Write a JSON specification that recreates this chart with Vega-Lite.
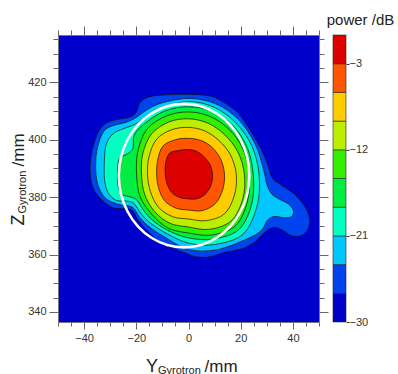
{
  "$schema": "https://vega.github.io/schema/vega-lite/v6.json",
  "background": "white",
  "padding": {"left": 9, "top": 12, "right": 0, "bottom": 0},
  "spacing": 14,
  "bounds": "flush",
  "config": {"font": "Liberation Sans", "view": {"stroke": null}},
  "datasets": {
    "cont": [
      {"lv":-27,"i":0,"Y":0,"Z":415.8},{"lv":-27,"i":1,"Y":8,"Z":415.3},{"lv":-27,"i":2,"Y":13,"Z":413.3},{"lv":-27,"i":3,"Y":19,"Z":409.3},{"lv":-27,"i":4,"Y":24.2,"Z":402.5},{"lv":-27,"i":5,"Y":28.5,"Z":395.5},{"lv":-27,"i":6,"Y":30.8,"Z":390},{"lv":-27,"i":7,"Y":32.2,"Z":386.5},{"lv":-27,"i":8,"Y":35.5,"Z":384.2},{"lv":-27,"i":9,"Y":40.7,"Z":380.9},{"lv":-27,"i":10,"Y":44.5,"Z":376.8},{"lv":-27,"i":11,"Y":46.4,"Z":372.5},{"lv":-27,"i":12,"Y":45.8,"Z":369},{"lv":-27,"i":13,"Y":43.3,"Z":366.6},{"lv":-27,"i":14,"Y":39.4,"Z":366.6},{"lv":-27,"i":15,"Y":35.5,"Z":368.8},{"lv":-27,"i":16,"Y":32.2,"Z":369.4},{"lv":-27,"i":17,"Y":29.1,"Z":367.6},{"lv":-27,"i":18,"Y":25.5,"Z":364.5},{"lv":-27,"i":19,"Y":20.5,"Z":362},{"lv":-27,"i":20,"Y":14,"Z":360.8},{"lv":-27,"i":21,"Y":8,"Z":359.2},{"lv":-27,"i":22,"Y":3,"Z":359.2},{"lv":-27,"i":23,"Y":-0.5,"Z":360.3},{"lv":-27,"i":24,"Y":-6.5,"Z":362.5},{"lv":-27,"i":25,"Y":-11.5,"Z":364.8},{"lv":-27,"i":26,"Y":-16,"Z":368.5},{"lv":-27,"i":27,"Y":-19.5,"Z":372.2},{"lv":-27,"i":28,"Y":-22,"Z":375.7},{"lv":-27,"i":29,"Y":-29,"Z":376.3},{"lv":-27,"i":30,"Y":-34.1,"Z":379.9},{"lv":-27,"i":31,"Y":-36.7,"Z":383.5},{"lv":-27,"i":32,"Y":-37.7,"Z":388.7},{"lv":-27,"i":33,"Y":-37.3,"Z":394.5},{"lv":-27,"i":34,"Y":-35.4,"Z":400.9},{"lv":-27,"i":35,"Y":-32.8,"Z":404.9},{"lv":-27,"i":36,"Y":-29,"Z":406.7},{"lv":-27,"i":37,"Y":-22.5,"Z":407.9},{"lv":-27,"i":38,"Y":-20,"Z":409.6},{"lv":-27,"i":39,"Y":-18.5,"Z":413},{"lv":-27,"i":40,"Y":-15,"Z":415},{"lv":-27,"i":41,"Y":-8,"Z":415.7},
      {"lv":-24,"i":0,"Y":0,"Z":414.4},{"lv":-24,"i":1,"Y":10.2,"Z":412.6},{"lv":-24,"i":2,"Y":19.1,"Z":407.1},{"lv":-24,"i":3,"Y":25.5,"Z":398.6},{"lv":-24,"i":4,"Y":28.8,"Z":389.5},{"lv":-24,"i":5,"Y":30,"Z":384.5},{"lv":-24,"i":6,"Y":32,"Z":381},{"lv":-24,"i":7,"Y":35,"Z":379.2},{"lv":-24,"i":8,"Y":38.3,"Z":377.6},{"lv":-24,"i":9,"Y":40.2,"Z":375.3},{"lv":-24,"i":10,"Y":39.4,"Z":373.2},{"lv":-24,"i":11,"Y":36.5,"Z":372.8},{"lv":-24,"i":12,"Y":33,"Z":373.3},{"lv":-24,"i":13,"Y":30.3,"Z":372},{"lv":-24,"i":14,"Y":28,"Z":368.5},{"lv":-24,"i":15,"Y":22.5,"Z":365.5},{"lv":-24,"i":16,"Y":10.9,"Z":361.7},{"lv":-24,"i":17,"Y":0,"Z":361.8},{"lv":-24,"i":18,"Y":-9.1,"Z":366.1},{"lv":-24,"i":19,"Y":-15.2,"Z":369.8},{"lv":-24,"i":20,"Y":-18.9,"Z":373.2},{"lv":-24,"i":21,"Y":-21.5,"Z":376.5},{"lv":-24,"i":22,"Y":-26.5,"Z":377.4},{"lv":-24,"i":23,"Y":-31.5,"Z":379.4},{"lv":-24,"i":24,"Y":-34.1,"Z":382.9},{"lv":-24,"i":25,"Y":-35.4,"Z":387.5},{"lv":-24,"i":26,"Y":-35.4,"Z":394.5},{"lv":-24,"i":27,"Y":-34.1,"Z":399.7},{"lv":-24,"i":28,"Y":-32.2,"Z":403.2},{"lv":-24,"i":29,"Y":-29,"Z":404.9},{"lv":-24,"i":30,"Y":-23.8,"Z":406.1},{"lv":-24,"i":31,"Y":-20,"Z":407.8},{"lv":-24,"i":32,"Y":-16,"Z":410.4},{"lv":-24,"i":33,"Y":-10.3,"Z":412.8},
      {"lv":-21,"i":0,"Y":0,"Z":413.3},{"lv":-21,"i":1,"Y":9.7,"Z":411.4},{"lv":-21,"i":2,"Y":18,"Z":406},{"lv":-21,"i":3,"Y":24.2,"Z":398},{"lv":-21,"i":4,"Y":27,"Z":388},{"lv":-21,"i":5,"Y":26.3,"Z":377.1},{"lv":-21,"i":6,"Y":20.9,"Z":367.1},{"lv":-21,"i":7,"Y":10.1,"Z":363.5},{"lv":-21,"i":8,"Y":0,"Z":364},{"lv":-21,"i":9,"Y":-8.5,"Z":367.4},{"lv":-21,"i":10,"Y":-14.5,"Z":370.9},{"lv":-21,"i":11,"Y":-18.2,"Z":374.3},{"lv":-21,"i":12,"Y":-20.7,"Z":377.6},{"lv":-21,"i":13,"Y":-23,"Z":378.6},{"lv":-21,"i":14,"Y":-27.7,"Z":378.9},{"lv":-21,"i":15,"Y":-30.9,"Z":381.7},{"lv":-21,"i":16,"Y":-32.2,"Z":386.4},{"lv":-21,"i":17,"Y":-32.2,"Z":393.3},{"lv":-21,"i":18,"Y":-31.5,"Z":398.5},{"lv":-21,"i":19,"Y":-29,"Z":402},{"lv":-21,"i":20,"Y":-25.1,"Z":403.8},{"lv":-21,"i":21,"Y":-20,"Z":405.6},{"lv":-21,"i":22,"Y":-15,"Z":408.8},{"lv":-21,"i":23,"Y":-9.6,"Z":411.3},
      {"lv":-18,"i":0,"Y":0,"Z":411.5},{"lv":-18,"i":1,"Y":9.1,"Z":409.9},{"lv":-18,"i":2,"Y":17,"Z":405},{"lv":-18,"i":3,"Y":22.5,"Z":397.3},{"lv":-18,"i":4,"Y":24.8,"Z":388},{"lv":-18,"i":5,"Y":24.3,"Z":377.9},{"lv":-18,"i":6,"Y":19.3,"Z":368.7},{"lv":-18,"i":7,"Y":9.4,"Z":365.4},{"lv":-18,"i":8,"Y":0,"Z":365.8},{"lv":-18,"i":9,"Y":-8.1,"Z":368.5},{"lv":-18,"i":10,"Y":-13.7,"Z":371.9},{"lv":-18,"i":11,"Y":-17.2,"Z":375.4},{"lv":-18,"i":12,"Y":-19.7,"Z":378.9},{"lv":-18,"i":13,"Y":-22,"Z":380},{"lv":-18,"i":14,"Y":-25.5,"Z":381},{"lv":-18,"i":15,"Y":-27,"Z":384},{"lv":-18,"i":16,"Y":-27.2,"Z":389},{"lv":-18,"i":17,"Y":-26.5,"Z":393.5},{"lv":-18,"i":18,"Y":-23.5,"Z":395},{"lv":-18,"i":19,"Y":-21.3,"Z":397},{"lv":-18,"i":20,"Y":-20.8,"Z":401.5},{"lv":-18,"i":21,"Y":-17.3,"Z":405.3},{"lv":-18,"i":22,"Y":-9.1,"Z":410},
      {"lv":-15,"i":0,"Y":23.2,"Z":388},{"lv":-15,"i":1,"Y":20.9,"Z":396.7},{"lv":-15,"i":2,"Y":15.6,"Z":403.6},{"lv":-15,"i":3,"Y":8.3,"Z":408.1},{"lv":-15,"i":4,"Y":0,"Z":409.7},{"lv":-15,"i":5,"Y":-8.4,"Z":408.3},{"lv":-15,"i":6,"Y":-15.8,"Z":403.8},{"lv":-15,"i":7,"Y":-19.4,"Z":396},{"lv":-15,"i":8,"Y":-19.9,"Z":388},{"lv":-15,"i":9,"Y":-18.6,"Z":380.3},{"lv":-15,"i":10,"Y":-14,"Z":374},{"lv":-15,"i":11,"Y":-7.8,"Z":369.2},{"lv":-15,"i":12,"Y":0,"Z":367.5},{"lv":-15,"i":13,"Y":8.8,"Z":366.8},{"lv":-15,"i":14,"Y":18,"Z":370},{"lv":-15,"i":15,"Y":22.6,"Z":378.6},
      {"lv":-12,"i":0,"Y":21.4,"Z":388},{"lv":-12,"i":1,"Y":18.9,"Z":395.8},{"lv":-12,"i":2,"Y":13.8,"Z":401.8},{"lv":-12,"i":3,"Y":7.4,"Z":405.8},{"lv":-12,"i":4,"Y":0,"Z":407.3},{"lv":-12,"i":5,"Y":-7.5,"Z":406.2},{"lv":-12,"i":6,"Y":-14.1,"Z":402.1},{"lv":-12,"i":7,"Y":-17.5,"Z":395.2},{"lv":-12,"i":8,"Y":-18,"Z":388},{"lv":-12,"i":9,"Y":-16.8,"Z":381},{"lv":-12,"i":10,"Y":-13,"Z":375},{"lv":-12,"i":11,"Y":-7.1,"Z":370.9},{"lv":-12,"i":12,"Y":0,"Z":369.6},{"lv":-12,"i":13,"Y":8,"Z":368.8},{"lv":-12,"i":14,"Y":16.3,"Z":371.7},{"lv":-12,"i":15,"Y":20.8,"Z":379.4},
      {"lv":-9,"i":0,"Y":18.3,"Z":388},{"lv":-9,"i":1,"Y":16.1,"Z":394.7},{"lv":-9,"i":2,"Y":11.7,"Z":399.7},{"lv":-9,"i":3,"Y":6.2,"Z":403.1},{"lv":-9,"i":4,"Y":0,"Z":404.3},{"lv":-9,"i":5,"Y":-6.4,"Z":403.5},{"lv":-9,"i":6,"Y":-12.2,"Z":400.2},{"lv":-9,"i":7,"Y":-15.1,"Z":394.2},{"lv":-9,"i":8,"Y":-15.7,"Z":388},{"lv":-9,"i":9,"Y":-14.6,"Z":382},{"lv":-9,"i":10,"Y":-11.5,"Z":376.5},{"lv":-9,"i":11,"Y":-6.1,"Z":373.2},{"lv":-9,"i":12,"Y":0,"Z":372.4},{"lv":-9,"i":13,"Y":6.7,"Z":371.8},{"lv":-9,"i":14,"Y":13.8,"Z":374.2},{"lv":-9,"i":15,"Y":17.6,"Z":380.7},
      {"lv":-6,"i":0,"Y":13.8,"Z":388},{"lv":-6,"i":1,"Y":12.4,"Z":393.1},{"lv":-6,"i":2,"Y":9.2,"Z":397.2},{"lv":-6,"i":3,"Y":4.9,"Z":399.7},{"lv":-6,"i":4,"Y":0,"Z":400.5},{"lv":-6,"i":5,"Y":-5,"Z":400},{"lv":-6,"i":6,"Y":-9.8,"Z":397.8},{"lv":-6,"i":7,"Y":-11.8,"Z":392.9},{"lv":-6,"i":8,"Y":-12.2,"Z":388},{"lv":-6,"i":9,"Y":-11.5,"Z":383.3},{"lv":-6,"i":10,"Y":-9.2,"Z":378.8},{"lv":-6,"i":11,"Y":-4.9,"Z":376.2},{"lv":-6,"i":12,"Y":0,"Z":375.5},{"lv":-6,"i":13,"Y":5.3,"Z":375.3},{"lv":-6,"i":14,"Y":10.3,"Z":377.8},{"lv":-6,"i":15,"Y":13.1,"Z":382.6},
      {"lv":-3,"i":0,"Y":9.2,"Z":388},{"lv":-3,"i":1,"Y":8.2,"Z":391.4},{"lv":-3,"i":2,"Y":6,"Z":394},{"lv":-3,"i":3,"Y":3.3,"Z":395.9},{"lv":-3,"i":4,"Y":0,"Z":396.6},{"lv":-3,"i":5,"Y":-3.4,"Z":396.3},{"lv":-3,"i":6,"Y":-7.3,"Z":395.3},{"lv":-3,"i":7,"Y":-8.8,"Z":391.6},{"lv":-3,"i":8,"Y":-8.9,"Z":388},{"lv":-3,"i":9,"Y":-8.2,"Z":384.6},{"lv":-3,"i":10,"Y":-6.4,"Z":381.6},{"lv":-3,"i":11,"Y":-3.4,"Z":379.9},{"lv":-3,"i":12,"Y":0,"Z":379.4},{"lv":-3,"i":13,"Y":3.5,"Z":379.5},{"lv":-3,"i":14,"Y":6.7,"Z":381.3},{"lv":-3,"i":15,"Y":8.7,"Z":384.4}
    ],
    "circ": [
      {"i":0,"Y":23.3,"Z":387.5},{"i":1,"Y":22.45,"Z":393.97},{"i":2,"Y":19.95,"Z":400},{"i":3,"Y":15.98,"Z":405.18},{"i":4,"Y":10.8,"Z":409.15},{"i":5,"Y":4.77,"Z":411.65},{"i":6,"Y":-1.7,"Z":412.5},{"i":7,"Y":-8.17,"Z":411.65},{"i":8,"Y":-14.2,"Z":409.15},{"i":9,"Y":-19.38,"Z":405.18},{"i":10,"Y":-23.35,"Z":400},{"i":11,"Y":-25.85,"Z":393.97},{"i":12,"Y":-26.7,"Z":387.5},{"i":13,"Y":-25.85,"Z":381.03},{"i":14,"Y":-23.35,"Z":375},{"i":15,"Y":-19.38,"Z":369.82},{"i":16,"Y":-14.2,"Z":365.85},{"i":17,"Y":-8.17,"Z":363.35},{"i":18,"Y":-1.7,"Z":362.5},{"i":19,"Y":4.77,"Z":363.35},{"i":20,"Y":10.8,"Z":365.85},{"i":21,"Y":15.98,"Z":369.82},{"i":22,"Y":19.95,"Z":375},{"i":23,"Y":22.45,"Z":381.03}
    ],
    "bands": [
      {"lo":-30,"hi":-27},{"lo":-27,"hi":-24},{"lo":-24,"hi":-21},{"lo":-21,"hi":-18},{"lo":-18,"hi":-15},{"lo":-15,"hi":-12},{"lo":-12,"hi":-9},{"lo":-9,"hi":-6},{"lo":-6,"hi":-3},{"lo":-3,"hi":0}
    ]
  },
  "hconcat": [
    {
      "width": 261,
      "height": 287,
      "view": {"fill": "#0000CC", "stroke": null},
      "data": {"name": "cont"},
      "encoding": {
        "x": {"field": "Y", "type": "quantitative", "scale": {"domain": [-50, 50], "nice": false, "zero": false}, "axis": null},
        "y": {"field": "Z", "type": "quantitative", "scale": {"domain": [336.5, 436.5], "nice": false, "zero": false}, "axis": null},
        "order": {"field": "i", "type": "quantitative"}
      },
      "layer": [
        {
          "transform": [{"filter": "datum.lv == -27"}],
          "mark": {"type": "line", "filled": true, "fill": "#0044EE", "stroke": "#111", "strokeWidth": 0.7, "interpolate": "cardinal-closed"},
          "encoding": {
            "x": {"field": "Y", "type": "quantitative", "scale": {"domain": [-50, 50], "nice": false, "zero": false},
              "axis": {"orient": "bottom", "values": [-50,-45,-40,-35,-30,-25,-20,-15,-10,-5,0,5,10,15,20,25,30,35,40,45,50], "labelExpr": "datum.value % 20 == 0 ? datum.label : ''", "labelFlush": false, "labelOverlap": false, "labelFontSize": 11, "labelColor": "#333", "labelPadding": 3, "tickColor": "#666", "tickSize": {"condition": {"test": "datum.value % 20 == 0", "value": 7}, "value": 4}, "domainColor": "#777", "grid": false, "title": "Y", "titleFontSize": 18, "titleFontWeight": "normal", "titleColor": "#222", "titleAlign": "left", "titleBaseline": "alphabetic", "titleX": 87.5, "titleY": 49}},
            "y": {"field": "Z", "type": "quantitative", "scale": {"domain": [336.5, 436.5], "nice": false, "zero": false},
              "axis": {"orient": "left", "values": [340,345,350,355,360,365,370,375,380,385,390,395,400,405,410,415,420,425,430,435], "labelExpr": "datum.value % 20 == 0 ? datum.label : ''", "labelFlush": false, "labelOverlap": false, "labelFontSize": 11, "labelColor": "#333", "labelPadding": 3, "tickColor": "#666", "tickSize": {"condition": {"test": "datum.value % 20 == 0", "value": 9}, "value": 5}, "domainColor": "#777", "grid": false, "title": "Z", "titleAngle": 270, "titleFontSize": 18, "titleFontWeight": "normal", "titleColor": "#222", "titleAlign": "left", "titleBaseline": "alphabetic", "titleX": -34.5, "titleY": 190}}
          }
        },
        {
          "transform": [{"filter": "datum.lv == -24"}],
          "mark": {"type": "line", "filled": true, "fill": "#00C8FF", "stroke": "#111", "strokeWidth": 0.7, "interpolate": "cardinal-closed"},
          "encoding": {
            "x": {"field": "Y", "type": "quantitative", "scale": {"domain": [-50, 50], "nice": false, "zero": false},
              "axis": {"orient": "top", "values": [-50,-45,-40,-35,-30,-25,-20,-15,-10,-5,0,5,10,15,20,25,30,35,40,45,50], "labels": false, "tickColor": "#666", "tickSize": {"condition": {"test": "datum.value % 20 == 0", "value": 9}, "value": 5}, "domainColor": "#777", "grid": false, "title": null}},
            "y": {"field": "Z", "type": "quantitative", "scale": {"domain": [336.5, 436.5], "nice": false, "zero": false},
              "axis": {"orient": "right", "values": [340,345,350,355,360,365,370,375,380,385,390,395,400,405,410,415,420,425,430,435], "labels": false, "tickColor": "#666", "tickSize": {"condition": {"test": "datum.value % 20 == 0", "value": 9}, "value": 5}, "domainColor": "#777", "grid": false, "title": null}}
          }
        },
        {
          "transform": [{"filter": "datum.lv == -21"}],
          "mark": {"type": "line", "filled": true, "fill": "#00FFC0", "stroke": "#111", "strokeWidth": 0.7, "interpolate": "cardinal-closed"},
          "encoding": {
            "x": {"field": "Y", "type": "quantitative", "scale": {"domain": [-50, 50], "nice": false, "zero": false},
              "axis": {"orient": "bottom", "labels": false, "ticks": false, "domain": false, "grid": false, "title": "Gyrotron", "titleFontSize": 11, "titleFontWeight": "normal", "titleColor": "#222", "titleAlign": "left", "titleBaseline": "alphabetic", "titleX": 99.5, "titleY": 51}},
            "y": {"field": "Z", "type": "quantitative", "scale": {"domain": [336.5, 436.5], "nice": false, "zero": false},
              "axis": {"orient": "left", "labels": false, "ticks": false, "domain": false, "grid": false, "title": "Gyrotron", "titleAngle": 270, "titleFontSize": 11, "titleFontWeight": "normal", "titleColor": "#222", "titleAlign": "left", "titleBaseline": "alphabetic", "titleX": -32.5, "titleY": 178}}
          }
        },
        {
          "transform": [{"filter": "datum.lv == -18"}],
          "mark": {"type": "line", "filled": true, "fill": "#00EE44", "stroke": "#111", "strokeWidth": 0.7, "interpolate": "cardinal-closed"},
          "encoding": {
            "x": {"field": "Y", "type": "quantitative", "scale": {"domain": [-50, 50], "nice": false, "zero": false},
              "axis": {"orient": "bottom", "labels": false, "ticks": false, "domain": false, "grid": false, "title": "/mm", "titleFontSize": 17, "titleFontWeight": "normal", "titleColor": "#222", "titleAlign": "left", "titleBaseline": "alphabetic", "titleX": 146, "titleY": 49}},
            "y": {"field": "Z", "type": "quantitative", "scale": {"domain": [336.5, 436.5], "nice": false, "zero": false},
              "axis": {"orient": "left", "labels": false, "ticks": false, "domain": false, "grid": false, "title": "/mm", "titleAngle": 270, "titleFontSize": 17, "titleFontWeight": "normal", "titleColor": "#222", "titleAlign": "left", "titleBaseline": "alphabetic", "titleX": -34.5, "titleY": 131}}
          }
        },
        {"transform": [{"filter": "datum.lv == -15"}], "mark": {"type": "line", "filled": true, "fill": "#33EE00", "stroke": "#111", "strokeWidth": 0.7, "interpolate": "cardinal-closed"}},
        {"transform": [{"filter": "datum.lv == -12"}], "mark": {"type": "line", "filled": true, "fill": "#BBEE00", "stroke": "#111", "strokeWidth": 0.7, "interpolate": "cardinal-closed"}},
        {"transform": [{"filter": "datum.lv == -9"}], "mark": {"type": "line", "filled": true, "fill": "#FFCC00", "stroke": "#111", "strokeWidth": 0.7, "interpolate": "cardinal-closed"}},
        {"transform": [{"filter": "datum.lv == -6"}], "mark": {"type": "line", "filled": true, "fill": "#FF5500", "stroke": "#111", "strokeWidth": 0.7, "interpolate": "cardinal-closed"}},
        {"transform": [{"filter": "datum.lv == -3"}], "mark": {"type": "line", "filled": true, "fill": "#DD0000", "stroke": "#111", "strokeWidth": 0.7, "interpolate": "cardinal-closed"}},
        {"data": {"name": "circ"}, "mark": {"type": "line", "stroke": "white", "strokeWidth": 2.6, "interpolate": "cardinal-closed"}}
      ],
      "resolve": {"axis": {"x": "independent", "y": "independent"}}
    },
    {
      "width": 13,
      "height": 287,
      "data": {"name": "bands"},
      "title": {"text": "power /dB", "anchor": "start", "fontSize": 15, "fontWeight": "normal", "color": "#222", "offset": 7, "dx": -6},
      "mark": {"type": "rect", "stroke": "#222", "strokeWidth": 0.6},
      "encoding": {
        "y": {"field": "lo", "type": "quantitative", "scale": {"domain": [-30, 0], "nice": false, "zero": false},
          "axis": {"orient": "right", "values": [-3, -12, -21, -30], "title": null, "domain": false, "grid": false, "tickSize": 3, "tickColor": "#333", "labelPadding": 0, "labelFontSize": 11, "labelColor": "#333", "labelFlush": false, "labelOverlap": false}},
        "y2": {"field": "hi"},
        "color": {"field": "lo", "type": "ordinal", "scale": {"domain": [-30, -27, -24, -21, -18, -15, -12, -9, -6, -3], "range": ["#0000CC", "#0044EE", "#00C8FF", "#00FFC0", "#00EE44", "#33EE00", "#BBEE00", "#FFCC00", "#FF5500", "#DD0000"]}, "legend": null}
      }
    }
  ]
}
